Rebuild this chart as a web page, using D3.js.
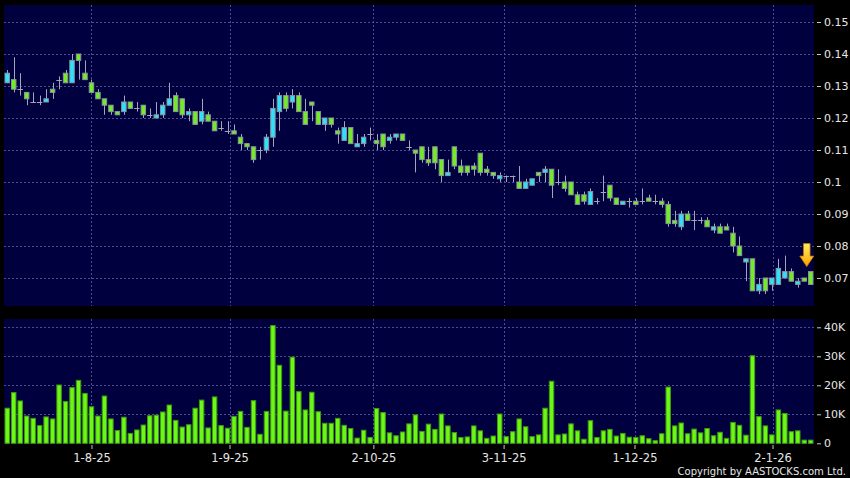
<!DOCTYPE html>
<html><head><meta charset="utf-8">
<script src="https://cdn.jsdelivr.net/npm/d3@7"></script>
<style>html,body{margin:0;padding:0;background:#000;}svg{display:block;}</style>
</head><body>
<svg id="c" width="850" height="478"></svg>
<script>
// ---- data ----
const open = [.131,.132,.129,.128,.125,.125,.125,.129,.132,.134,.131,.140,.134,.131,.128,.126,.124,.122,.122,.125,
.123,.124,.121,.120,.121,.124,.127,.126,.121,.122,.119,.121,.119,.117,.116,.116,.114,.112,.111,.110,
.110,.114,.122,.127,.125,.127,.122,.125,.122,.118,.120,.116,.113,.117,.111,.112,.115,.113,.115,.113,
.114,.115,.111,.110,.111,.107,.111,.107,.102,.111,.105,.105,.105,.109,.104,.103,.101,.102,.102,.100,
.098,.099,.103,.103,.104,.100,.100,.100,.096,.096,.093,.094,.097,.099,.095,.093,.094,.094,.094,.095,
.094,.094,.093,.088,.086,.090,.088,.088,.088,.085,.086,.086,.084,.080,.075,.076,.066,.070,.068,.068,
.070,.072,.068,.070,.072];
const high = [.135,.139,.134,.128,.128,.127,.129,.131,.133,.135,.140,.140,.138,.132,.129,.126,.124,.122,.127,.125,
.125,.124,.123,.125,.125,.131,.128,.126,.123,.122,.126,.122,.119,.119,.119,.118,.115,.112,.111,.111,
.115,.126,.128,.128,.129,.128,.126,.125,.122,.120,.120,.117,.119,.117,.115,.115,.117,.115,.115,.115,
.115,.115,.113,.110,.111,.111,.111,.107,.107,.111,.107,.105,.106,.109,.105,.103,.103,.102,.102,.105,
.101,.101,.103,.105,.104,.104,.102,.100,.097,.097,.098,.095,.102,.099,.095,.094,.095,.095,.098,.096,
.096,.095,.094,.091,.091,.091,.091,.089,.089,.087,.087,.087,.086,.083,.076,.076,.070,.070,.070,.076,
.077,.073,.070,.070,.072];
const low = [.131,.128,.127,.124,.125,.124,.125,.126,.129,.131,.131,.132,.132,.128,.126,.121,.121,.121,.121,.123,
.122,.120,.120,.120,.120,.124,.122,.120,.119,.118,.118,.119,.116,.116,.115,.115,.110,.110,.106,.107,
.109,.111,.116,.122,.123,.122,.118,.119,.118,.116,.117,.112,.113,.112,.111,.111,.113,.110,.110,.112,
.113,.113,.110,.103,.106,.105,.104,.100,.102,.104,.102,.102,.102,.102,.102,.101,.100,.100,.100,.098,
.098,.099,.100,.100,.095,.099,.097,.096,.093,.093,.093,.093,.094,.094,.093,.093,.092,.093,.093,.094,
.093,.092,.086,.086,.085,.088,.085,.087,.086,.084,.084,.085,.078,.077,.069,.066,.065,.065,.066,.068,
.070,.069,.067,.069,.068];
const close = [.134,.129,.129,.126,.125,.125,.126,.128,.132,.131,.138,.138,.132,.128,.126,.124,.122,.121,.125,.123,
.123,.121,.121,.121,.124,.126,.122,.121,.122,.118,.122,.119,.116,.117,.116,.115,.112,.111,.107,.110,
.114,.123,.127,.123,.127,.122,.118,.124,.118,.120,.118,.115,.117,.112,.112,.114,.115,.112,.111,.114,
.115,.113,.111,.109,.107,.106,.106,.102,.103,.105,.103,.103,.104,.103,.103,.102,.102,.102,.102,.098,
.100,.101,.102,.104,.099,.100,.098,.096,.093,.094,.097,.094,.097,.095,.093,.094,.094,.093,.094,.094,
.094,.093,.087,.087,.090,.088,.088,.088,.086,.086,.084,.085,.080,.077,.076,.066,.068,.066,.070,.073,
.072,.069,.069,.069,.068];
const volume = [12100,17500,14600,9400,8600,6100,9100,8400,20100,14400,19200,21700,17200,12600,9400,16300,8400,4400,9000,3400,
4600,6300,9500,9700,10800,13200,7900,5600,6400,12100,14900,5300,16000,6100,5200,9300,11000,5500,14700,3100,
11000,40600,26900,11100,29700,17800,11500,17600,10900,6900,6900,8600,6200,5100,1800,4500,2000,12000,10600,3600,
2600,3900,6700,9800,4100,6600,4800,10100,6000,3700,2000,2200,6000,4300,1700,2500,10100,2300,4000,8400,
5700,2300,2900,12100,21400,2900,3200,6700,4300,1400,7800,2000,4300,4800,2500,3400,2100,2000,2600,1600,
900,3300,19400,6000,7000,3300,4900,3600,5100,2600,3800,1700,7200,6200,2800,30200,9200,6000,2900,11500,
10300,4000,4300,1100,1100];
const xTickLabels = ['1-8-25','1-9-25','2-10-25','3-11-25','1-12-25','2-1-26'];
const xTickAt = [13, 34.3, 56.5, 76.6, 96.8, 118.1];   // bar index of each month label
const priceTicks = [0.07,0.08,0.09,0.10,0.11,0.12,0.13,0.14,0.15];
const volTicks = [0,10000,20000,30000,40000];

// ---- layout ----
const W=850,H=478;
const L=4,R=814, pTop=5,pBot=306, vTop=319,vBot=444;
const N=close.length;
const svg=d3.select('#c');
svg.append('rect').attr('width',W).attr('height',H).attr('fill','#000');

const x=d3.scaleLinear().domain([-0.5,N-0.5]).range([L,R]);
const step=(R-L)/N, bw=step*0.84;
const y=d3.scaleLinear().domain([0.07,0.15]).range([278,22]);
const yv=d3.scaleLinear().domain([0,40000]).range([443.3,327.3]);

const NAVY='#00003e', GRID='#4c4c90';
svg.append('rect').attr('x',L).attr('y',pTop).attr('width',R-L).attr('height',pBot-pTop).attr('fill',NAVY);
svg.append('rect').attr('x',L).attr('y',vTop).attr('width',R-L).attr('height',vBot-vTop).attr('fill',NAVY);

const g=svg.append('g');
// gridlines
g.selectAll('.hp').data(priceTicks).join('line')
 .attr('x1',L).attr('x2',R).attr('y1',d=>Math.round(y(d))+0.5).attr('y2',d=>Math.round(y(d))+0.5)
 .attr('stroke',GRID).attr('stroke-dasharray','2,2');
g.selectAll('.hv').data(volTicks.filter(d=>d>0)).join('line')
 .attr('x1',L).attr('x2',R).attr('y1',d=>Math.round(yv(d))+0.5).attr('y2',d=>Math.round(yv(d))+0.5)
 .attr('stroke',GRID).attr('stroke-dasharray','2,2');
[[pTop,pBot],[vTop,vBot]].forEach(([a,b])=>{
  g.selectAll(null).data(xTickAt).join('line')
   .attr('x1',d=>Math.round(x(d))+0.5).attr('x2',d=>Math.round(x(d))+0.5).attr('y1',a).attr('y2',b)
   .attr('stroke',GRID).attr('stroke-dasharray','2,2');
});

// candles
const bars=d3.range(N);
const GREEN='#74ec24', CYAN='#30e0ff', WICK='#a4a4bc', EDGE='#88969c';
const cg=svg.append('g');
cg.selectAll('.wick').data(bars).join('line')
 .attr('x1',i=>Math.round(x(i))+0.5).attr('x2',i=>Math.round(x(i))+0.5)
 .attr('y1',i=>y(high[i])).attr('y2',i=>y(low[i]))
 .attr('stroke',WICK).attr('stroke-width',1);
cg.selectAll('.doji').data(bars.filter(i=>open[i]===close[i])).join('line')
 .attr('x1',i=>x(i)-bw/2).attr('x2',i=>x(i)+bw/2)
 .attr('y1',i=>Math.round(y(open[i]))+0.5).attr('y2',i=>Math.round(y(open[i]))+0.5)
 .attr('stroke',WICK).attr('stroke-width',1);
cg.selectAll('.body').data(bars.filter(i=>open[i]!==close[i])).join('rect')
 .attr('x',i=>x(i)-bw/2+0.5).attr('width',bw-1)
 .attr('y',i=>y(Math.max(open[i],close[i]))).attr('height',i=>Math.abs(y(open[i])-y(close[i])))
 .attr('fill',i=>close[i]>open[i]?CYAN:GREEN).attr('stroke',EDGE).attr('stroke-width',1);

// volume
svg.append('g').selectAll('rect').data(bars).join('rect')
 .attr('x',i=>x(i)-bw/2+0.5).attr('width',bw-1)
 .attr('y',i=>yv(volume[i])).attr('height',i=>yv(0)-yv(volume[i]))
 .attr('fill','#6cf716').attr('stroke','#3f9a10').attr('stroke-width',1);

// arrow on the latest bar
const defs=svg.append('defs');
const gr=defs.append('linearGradient').attr('id','ag').attr('x1',0).attr('y1',0).attr('x2',0).attr('y2',1);
gr.append('stop').attr('offset','0%').attr('stop-color','#fff060');
gr.append('stop').attr('offset','100%').attr('stop-color','#ffa000');
const cx=x(N-1)-4, ty=y(high[N-1])-5;
svg.append('path')
 .attr('d',`M${cx-3.3},${ty-23}L${cx+3.3},${ty-23}L${cx+3.3},${ty-10.5}L${cx+7},${ty-10.5}L${cx},${ty}L${cx-7},${ty-10.5}L${cx-3.3},${ty-10.5}Z`)
 .attr('fill','url(#ag)').attr('stroke','#c07800').attr('stroke-width',0.8);

// axes
const FONT='DejaVu Sans, Verdana, sans-serif', TXT='#e6e6e6';
function style(sel,fs){
  sel.select('.domain').remove();
  sel.selectAll('line').attr('stroke','#c8c8c8');
  sel.selectAll('text').attr('fill',TXT).style('font-family',FONT).style('font-size',fs+'px');
}
svg.append('g').attr('transform',`translate(${R+3},0)`)
 .call(d3.axisRight(y).tickValues(priceTicks).tickSize(4).tickPadding(3).tickFormat(d=>String(+d.toFixed(2))))
 .call(s=>style(s,11));
svg.append('g').attr('transform',`translate(${R+3},0)`)
 .call(d3.axisRight(yv).tickValues(volTicks).tickSize(4).tickPadding(3).tickFormat(d=>d===0?'0':(d/1000)+'K'))
 .call(s=>style(s,11));
svg.append('g').attr('transform',`translate(0,${vBot+1})`)
 .call(d3.axisBottom(x).tickValues(xTickAt).tickSize(4).tickPadding(5).tickFormat((d,i)=>xTickLabels[i]))
 .call(s=>style(s,11.5));

svg.append('text').attr('x',846).attr('y',475).attr('text-anchor','end')
 .attr('fill',TXT).style('font-family',FONT).style('font-size','10px')
 .text('Copyright by AASTOCKS.com Ltd.');
</script>
</body></html>
